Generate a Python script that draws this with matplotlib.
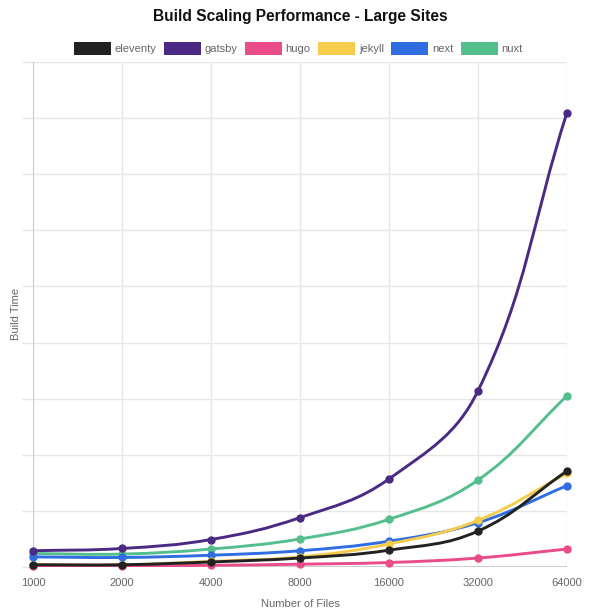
import numpy as np
import matplotlib
matplotlib.use("Agg")
from matplotlib import pyplot as plt
from matplotlib.path import Path
from matplotlib.patches import PathPatch, Rectangle

plt.rcParams['font.family'] = ['Liberation Sans', 'DejaVu Sans']

# === DATA (y axis has no labels, units are arbitrary) ===
file_counts = ["1000", "2000", "4000", "8000", "16000", "32000", "64000"]
series_names = ["eleventy", "gatsby", "hugo", "jekyll", "next", "nuxt"]
eleventy = [4, 4, 9, 16, 30, 64, 171]
gatsby = [29, 33, 49, 88, 157, 314, 810]
hugo = [2, 2, 3, 5, 8, 16, 32]
jekyll = [4, 4, 10, 18, 41, 83, 167]
next_js = [18, 17, 21, 29, 46, 79, 145]
nuxt = [24, 23, 32, 50, 85, 155, 305]
colors = ["#222222", "#4b2a84", "#ea4c89", "#f6cc4c", "#2f6de0", "#54bf8d"]

W, H, DPI = 600, 616, 100
GRID = "#e6e6e6"
AXIS = "#c4c4c4"
TXT = "#666666"


def spline_path(xs, ys, sx, sy, t=0.4):
    # Chart.js style bezier spline, control points computed in pixel space
    px = np.asarray(xs, float) * sx
    py = np.asarray(ys, float) * sy
    n = len(px)
    cp_prev, cp_next = [], []
    for i in range(n):
        a, b = max(i - 1, 0), min(i + 1, n - 1)
        d01 = np.hypot(px[i] - px[a], py[i] - py[a])
        d12 = np.hypot(px[b] - px[i], py[b] - py[i])
        tot = d01 + d12
        fa = t * (d01 / tot if tot else 0)
        fb = t * (d12 / tot if tot else 0)
        dx, dy = px[b] - px[a], py[b] - py[a]
        cp_prev.append((px[i] - fa * dx, py[i] - fa * dy))
        cp_next.append((px[i] + fb * dx, py[i] + fb * dy))
    verts = [(px[0], py[0])]
    codes = [Path.MOVETO]
    for i in range(1, n):
        verts += [cp_next[i - 1], cp_prev[i], (px[i], py[i])]
        codes += [Path.CURVE4] * 3
    verts = [(vx / sx, vy / sy) for vx, vy in verts]
    return Path(verts, codes)


fig = plt.figure(figsize=(W / DPI, H / DPI), dpi=DPI)
left, right, top, bottom = 33, 567, 62, 567
ax = fig.add_axes([left / W, 1 - bottom / H, (right - left) / W, (bottom - top) / H])

x = np.arange(len(file_counts))
ax.set_xlim(0, len(file_counts) - 1)
ax.set_ylim(0, 900)
ax.set_xticks(x)
ax.set_xticklabels(file_counts)
ax.set_yticks(np.arange(0, 901, 100))
ax.set_yticklabels([])
ax.grid(True, color=GRID, linewidth=1)
ax.set_axisbelow(True)
for s in ax.spines.values():
    s.set_visible(False)
ax.axvline(0, color=AXIS, linewidth=1.2, zorder=1)
ax.axhline(0, color=AXIS, linewidth=1.2, zorder=1)
ax.tick_params(axis='x', length=0, pad=8, labelsize=8, labelcolor=TXT)
ax.tick_params(axis='y', length=8, color=GRID, width=1)

sx = (right - left) / (len(file_counts) - 1)
sy = (bottom - top) / 900.0

all_series = [eleventy, gatsby, hugo, jekyll, next_js, nuxt]
for i, (vals, col) in enumerate(zip(all_series, colors)):
    z = 10 + (len(all_series) - i) * 2
    path = spline_path(x, vals, sx, sy)
    ax.add_patch(PathPatch(path, facecolor='none', edgecolor=col, linewidth=2.1,
                           capstyle='round', joinstyle='round', zorder=z))
    ax.plot(x, vals, 'o', color=col, markersize=5, zorder=z + 1, clip_on=False)

ax.set_xlabel("Number of Files", fontsize=8, color=TXT, labelpad=8)
fig.text(16 / W, 1 - 314 / H, "Build Time", rotation=90, ha='center', va='center',
         fontsize=8, color=TXT)

fig.text(0.5, 1 - 16 / H, "Build Scaling Performance - Large Sites", ha='center', va='center',
         fontsize=11.2, fontweight='bold', color='#111111')

# legend laid out like Chart.js: box, gap, label, padding
renderer = fig.canvas.get_renderer()
box_w, box_h, gap, pad = 37, 13, 3.7, 7.5
items = []
for name in series_names:
    t = fig.text(0, 0, name, fontsize=8, color=TXT)
    wpx = t.get_window_extent(renderer).width
    t.remove()
    items.append(wpx)
total = sum(box_w + gap + w + pad for w in items)
cx = W / 2 - total / 2 + 2
ly = 48
for name, col, wpx in zip(series_names, colors, items):
    fig.patches.append(Rectangle((cx / W, 1 - (ly + box_h / 2) / H), box_w / W, box_h / H,
                                 transform=fig.transFigure, facecolor=col, edgecolor='none'))
    fig.text((cx + box_w + gap) / W, 1 - (ly + 4) / H, name, ha='left', va='baseline',
             fontsize=8, color=TXT)
    cx += box_w + gap + wpx + pad

fig.savefig("out.png", dpi=DPI)
